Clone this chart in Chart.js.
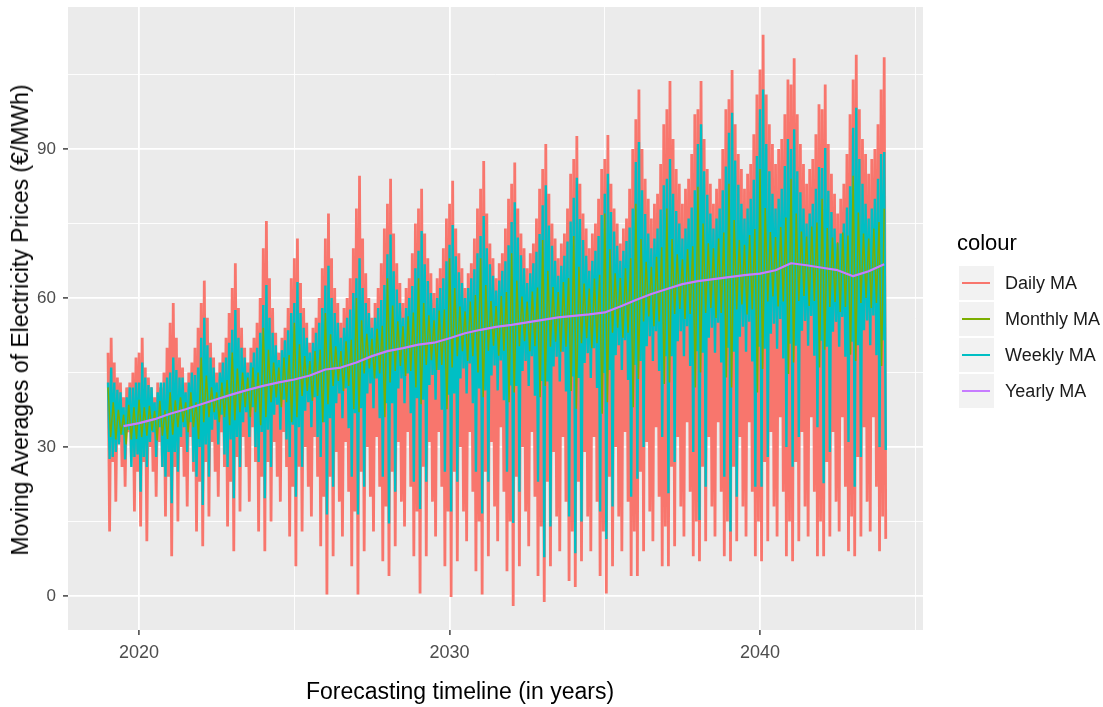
<!DOCTYPE html>
<html lang="en">
<head>
  <meta charset="UTF-8" />
  <title>Moving Averages of Electricity Prices</title>
  <script src="https://cdn.jsdelivr.net/npm/chart.js"></script>
  <style>
    body { margin: 0; background: #fff; font-family: "Liberation Sans", Arial, sans-serif; }
    .wrap { position: relative; width: 1103px; height: 707px; }
    #priceChart { position: absolute; left: 0; top: 0; }
    .x-title { position: absolute; left: 306px; top: 677px; font-size: 23px; line-height: 28px; color: #000; white-space: nowrap; }
    .y-title { position: absolute; left: 20px; top: 320px; font-size: 23px; line-height: 28px; color: #000; white-space: nowrap;
               transform: translate(-50%, -50%) rotate(-90deg); }
    .legend-title { position: absolute; left: 957px; top: 229px; font-size: 22px; line-height: 28px; color: #000; }
    .key { position: absolute; left: 959px; width: 35px; height: 34px; background: #F2F2F2; }
    .key span { position: absolute; left: 3px; right: 4px; top: 16px; height: 2px; }
    .label { position: absolute; left: 1005px; font-size: 18px; line-height: 34px; color: #1a1a1a; white-space: nowrap; }
  </style>
</head>
<body>
<div class="wrap">
  <canvas id="priceChart" width="1103" height="707"></canvas>

  <div class="y-title">Moving Averages of Electricity Prices (€/MWh)</div>
  <div class="x-title">Forecasting timeline (in years)</div>

  <!-- legend -->
  <div class="legend-title">colour</div>
  <div class="key" style="top:266px"><span style="background:#F8766D"></span></div>
  <div class="label" style="top:266px">Daily MA</div>
  <div class="key" style="top:302px"><span style="background:#7CAE00"></span></div>
  <div class="label" style="top:302px">Monthly MA</div>
  <div class="key" style="top:338px"><span style="background:#00BFC4"></span></div>
  <div class="label" style="top:338px">Weekly MA</div>
  <div class="key" style="top:374px"><span style="background:#C77CFF"></span></div>
  <div class="label" style="top:374px">Yearly MA</div>
</div>

<script>
  // values, one year per line (2019 ... 2043), starting Jan 2019
  // daily + weekly: 20 readings a year, monthly: 12 a year, yearly: every half year from mid 2019
  const dailyStep = 0.05;
  const monthlyStep = 1 / 12;
  const yearlyStart = 2019.5;
  const yearlyStep = 0.5;
  const seriesStart = 2019.0;

  const dailyMA = [
    49,13,52,27,47,19,44,31,43,26,40,22,42,33,43,28,45,17,48,25,
    49,14,52,27,46,11,44,30,42,25,40,20,43,31,42,26,45,16,50,24,
    55,8,59,26,52,15,48,30,46,24,43,18,45,32,47,25,50,13,54,23,
    59,10,63.5,27,56,16,51,31,48,25,45,20,47,33,49,26,52,14,57,23,
    62,9,67,28,58,17,54,32,50,26,47,19,50,34,52,27,55,13,60,24,
    70,9,75.5,27,64,15,58,31,53,24,49,19,52,33,54,26,58,12,64,22,
    68,6,72,26,63,13,58,30,55,22,51,16,54,32,56,24,60,10,66,20,
    72,0.3,77,24,68,8,62,29,59,19,55,12,58,31,60,21,64,6,70,17,
    78,0.3,84.6,25,72,9,65,30,60,20,56,13,59,32,62,22,67,7,74,18,
    79,4,84,25,73,10,67,31,63,19,59,14,62,33,64,22,69,8,75,17,
    78,0.5,82,26,73,8,68,31,65,19,61,12,64,33,66,22,70,6,76,17,
    79,-0.2,83.6,25,74,7,69,30,66,17,62,11,65,33,67,21,72,5,78,15,
    82,0.3,87.6,25,77,8,71,31,68,18,64,11,67,34,69,21,74,5,80,15,
    83,-2,87.3,24,78,6,73,30,70,17,66,10,69,33,71,20,76,4,82,14,
    86,-1.2,91,23,81,6,75,29,72,16,68,9,71,32,73,19,78,3,85,13,
    88,1.8,92.6,23,83,7,77,29,74,16,70,9,73,32,75,19,80,4,86,13,
    88,0.5,92.8,24,83,6,78,30,75,16,71,9,74,33,76,19,82,4,90,13,
    96,4,102,25,90,9,84,31,80,17,76,11,79,34,81,20,87,6,95,14,
    98,6,103.7,26,92,10,86,32,83,18,79,12,82,35,84,21,89,8,97,15,
    98,7,103.7,26,92,11,86,32,83,18,79,12,82,35,84,21,90,8,98,15,
    100,7,105.9,26,95,11,89,32,86,18,82,12,85,35,87,21,93,8,101,15,
    106,7,113,27,101,11,95,33,91,18,87,12,90,36,92,21,97,8,104,15,
    103,7,108.3,27,97,11,91,33,87,18,83,12,86,36,88,21,93,8,99,15,
    98,8,103,27,91,12,85,33,81,19,77,13,80,36,83,22,89,9,97,16,
    104,8,109,28,98,12,92,34,89,19,85,13,88,36,90,22,95,9,102,16,
    108.5,11.5
  ];

  const weeklyMA = [
    43,27.6,46,28,43,29,41.5,30.5,41,32.5,38,27.5,40,33.5,42,26,42,28,43,28.5,
    43,21,47,28,44,26,42.5,31,42,33,39,28,41,34,43,26,43,24,44,29,
    45,18.7,48,29,45.5,25,44,32,44,34,41,29,43,35,45,27,44.5,24,46,30,
    52,18.3,56,30.5,50.5,24,48,33.5,46,35.5,43,30.5,45,36.5,47,28.5,48,26,51,31.5,
    53.6,19.7,57.6,32,52,26,50,35,48,37,45,32,47,38,49,30,50,27,53,33,
    58.6,19.7,62.6,33.5,56,26,53,36.5,50.5,38.5,47.5,33.5,49.5,39.5,51.5,31.5,53.5,28,57,34.5,
    59,20,63.2,34,57,26,54,37.3,52,39,49,34,51,40,53,32,55,28,58,35,
    62.5,16.4,66.5,35.8,60,22,57,38.8,55,40.8,52,35.8,54,41.8,56,33.8,57.7,24,61,36.8,
    64,16.4,68,37.8,62,22,59,40.8,57,42.8,54,37.8,56,43.8,58,35.8,59.6,24,62.6,38.8,
    68.8,14.6,72.8,38.8,65.4,21,61.7,41.8,59,43.8,56,38.8,58,44.8,60,36.8,62.4,23,66,39.8,
    69.5,17.5,73.5,39.5,66.8,23,63.4,42.5,61,44.5,58,39.5,60,45.5,62,37.5,64,25,67.4,40.5,
    70.7,17,74.7,40.8,68.4,23,65.2,43.8,63,45.8,60,40.8,62,46.8,64,38.8,65.8,25,69,41.8,
    72.5,16.6,76.5,41.4,70,23,66.8,44.4,64.5,46.4,61.5,41.4,63.5,47.4,65.5,39.4,67.4,25,70.6,42.4,
    75.3,14.7,79.3,42.3,72.2,21,68.6,45.3,66,47.3,63,42.3,65,48.3,67,40.3,69.3,23,72.9,43.3,
    78.7,7.8,82.7,43.2,74.6,14,70.5,46.2,67.5,48.2,64.5,43.2,66.5,49.2,68.5,41.2,71.4,16,75.4,44.2,
    80.2,8.6,84.2,43.9,75.9,15,71.7,46.9,68.5,48.9,65.5,43.9,67.5,49.9,69.5,41.9,72.5,17,76.7,44.9,
    81,11.5,85,45.5,77.3,18,73.4,48.5,70.5,50.5,67.5,45.5,69.5,51.5,71.5,43.5,74.2,20,78,46.5,
    87.4,23.6,91.4,47.3,81.7,30,76.9,50.3,73,52.3,70,47.3,72,53.3,74,45.3,77.8,32,82.7,48.3,
    84,20.7,88,48.3,81,27,77.5,51.3,75,53.3,72,48.3,74,54.3,76,46.3,78.2,29,81.7,49.3,
    91,15.3,95,49,85.5,22,80.8,52,77,54,74,49,76,55,78,47,81.7,24,86.5,50,
    93.3,13,97.3,49.2,87.7,20,82.8,52.2,79,54.2,76,49.2,78,55.2,80,47.2,83.8,22,88.6,50.2,
    98,22,102,49.8,91,28,85.5,52.8,81,54.8,78,49.8,80,55.8,82,47.8,86.6,30,92,50.8,
    90,26,94,50.4,85.5,32,81.3,53.4,78,55.4,75,50.4,77,56.4,79,48.4,82,34,86.4,51.4,
    86.2,22.7,90.2,50.2,81.6,29,77.3,53.2,74,55.2,71,50.2,73,56.2,75,48.2,78.2,31,82.5,51.2,
    94.3,22,98.3,50.5,88,28,83,53.5,79,55.5,76,50.5,78,56.5,80,48.5,84,30,89,51.5,
    89.4,29.4
  ];

  const monthlyMA = [
    42,32,39,31.5,37.5,32.5,36.5,30.5,38.5,31.5,38,31.6,
    39.5,32,38,32.3,38.3,33.3,37.3,31.3,39.3,32.3,37.4,31.6,
    41,32.5,39.4,34,40,35,39,33,41,34,39,31.6,
    48,35,44.4,36,42,37,41,35,43,36,43.5,34.4,
    49,35.4,45.8,37,45,38,44,36,46,37,45,34.4,
    54,36,49.6,39,47,40,46,38,48,39,48.5,35,
    55,36,50.7,40.3,48.3,41.3,47.3,39.3,49.3,40.3,49.6,35,
    57,38.6,52.7,42.3,50.3,43.3,49.3,41.3,51.3,42.3,51.6,37.6,
    60,37,55.5,44.8,52.8,45.8,51.8,43.8,53.8,44.8,54.4,36,
    64,43,58.5,45.3,55.3,46.3,54.3,44.3,56.3,45.3,57.1,42,
    64,38.6,59,46.5,56.5,47.5,55.5,45.5,57.5,46.5,57.7,37.6,
    68,46,62,48.3,58.3,49.3,57.3,47.3,59.3,48.3,60.6,45,
    68,40,62.6,49.4,59.4,50.4,58.4,48.4,60.4,49.4,61.2,39,
    69,41,63.5,50.3,60.3,51.3,59.3,49.3,61.3,50.3,62.1,40,
    71.7,42.3,65.5,50.2,62.2,51.2,61.2,49.2,63.2,50.2,64,41.3,
    72.5,37.7,66.3,50.9,62.9,51.9,61.9,49.9,63.9,50.9,64.7,36.7,
    77,39,69.8,53,65,54,64,52,66,53,68,38,
    79,43.7,71.9,55.3,67.3,56.3,66.3,54.3,68.3,55.3,70.2,42.7,
    78,43,71.9,56.8,68.8,57.8,67.8,55.8,69.8,56.8,70.4,42,
    82.4,45,75,57,71,58,70,56,72,57,73.2,44,
    83,42,75.7,57.7,71.7,58.7,70.7,56.7,72.7,57.7,73.9,41,
    86,45.7,78.1,59.3,73.3,60.3,72.3,58.3,74.3,59.3,76.2,44.7,
    84,47,77,59.4,73.4,60.4,72.4,58.4,74.4,59.4,75.2,46,
    80,49.6,74.1,58.2,72.2,59.2,71.2,57.2,73.2,58.2,72.6,48.6,
    84.6,47.3,77.2,59,73,60,72,58,74,59,75.3,46.3,
    78
  ];

  const yearlyMA = [
    34.2,34.8,35.6,36.7,37.6,38.6,39.6,40.6,41.5,42.3,43.0,43.6,44.4,45.6,46.0,47.0,
    48.3,49.3,49.9,50.6,51.0,51.9,52.9,53.6,54.2,54.6,55.1,55.6,56.1,56.4,56.7,57.1,
    58.3,59.6,60.8,61.8,62.8,63.4,63.8,64.2,64.6,64.9,65.6,67.0,66.6,66.1,65.6,64.4,
    65.4,66.8
  ];

  const xTicks = [2020, 2025, 2030, 2035, 2040, 2045];
  const yTicks = [0, 15, 30, 45, 60, 75, 90, 105];

  function toPoints(values, start, step) {
    return values.map((v, i) => ({ x: start + i * step, y: v }));
  }

  const fontFamily = "'Liberation Sans', Arial, sans-serif";
  const isMajorX = c => c.tick && c.tick.value % 10 === 0;
  const isMajorY = c => c.tick && c.tick.value % 30 === 0;

  // grey ggplot-like panel behind the grid
  const panelBackground = {
    id: 'panelBackground',
    beforeDraw(chart) {
      const { ctx, chartArea: a } = chart;
      ctx.save();
      ctx.fillStyle = '#EBEBEB';
      ctx.fillRect(a.left, a.top, a.right - a.left, a.bottom - a.top);
      ctx.restore();
    }
  };

  const ctx = document.getElementById('priceChart').getContext('2d');

  new Chart(ctx, {
    type: 'line',
    data: {
      datasets: [
        { label: 'Yearly MA', data: toPoints(yearlyMA, yearlyStart, yearlyStep), borderColor: '#C77CFF', borderWidth: 2.2, order: 0 },
        { label: 'Monthly MA', data: toPoints(monthlyMA, seriesStart, monthlyStep), borderColor: '#7CAE00', borderWidth: 1.5, order: 1 },
        { label: 'Weekly MA', data: toPoints(weeklyMA, seriesStart, dailyStep), borderColor: '#00BFC4', borderWidth: 2.4, order: 2 },
        { label: 'Daily MA', data: toPoints(dailyMA, seriesStart, dailyStep), borderColor: '#F8766D', borderWidth: 2.8, order: 3 }
      ]
    },
    options: {
      responsive: false,
      animation: false,
      devicePixelRatio: 1,
      layout: { padding: { left: 0, top: 7, right: 180, bottom: 0 } },
      elements: {
        point: { radius: 0 },
        line: { tension: 0, borderJoinStyle: 'bevel', fill: false }
      },
      plugins: {
        legend: { display: false },
        tooltip: { enabled: false }
      },
      scales: {
        x: {
          type: 'linear',
          min: 2017.71,
          max: 2045.25,
          afterBuildTicks: s => { s.ticks = xTicks.map(v => ({ value: v })); },
          afterFit: s => {
            s.height = 77;
            s.paddingLeft = 0; s.paddingRight = 0;
          },
          border: { display: false },
          grid: {
            color: '#FFFFFF',
            lineWidth: c => isMajorX(c) ? 1.8 : 0.9,
            drawTicks: true,
            tickLength: 5,
            tickWidth: 1.4,
            tickColor: c => isMajorX(c) ? '#333333' : 'rgba(0,0,0,0)'
          },
          ticks: {
            color: '#4D4D4D',
            font: { size: 18, family: fontFamily },
            padding: 7,
            maxRotation: 0,
            autoSkip: false,
            callback: v => v % 10 === 0 ? String(v) : ''
          }
        },
        y: {
          type: 'linear',
          min: -6.85,
          max: 118.6,
          afterBuildTicks: s => { s.ticks = yTicks.map(v => ({ value: v })); },
          afterFit: s => {
            s.width = 68;
            s.paddingTop = 0; s.paddingBottom = 0;
          },
          border: { display: false },
          grid: {
            color: '#FFFFFF',
            lineWidth: c => isMajorY(c) ? 1.8 : 0.9,
            drawTicks: true,
            tickLength: 5,
            tickWidth: 1.4,
            tickColor: c => isMajorY(c) ? '#333333' : 'rgba(0,0,0,0)'
          },
          ticks: {
            color: '#4D4D4D',
            font: { size: 17, family: fontFamily },
            padding: 7,
            autoSkip: false,
            callback: v => v % 30 === 0 ? String(v) : ''
          }
        }
      }
    },
    plugins: [panelBackground]
  });
</script>
</body>
</html>
